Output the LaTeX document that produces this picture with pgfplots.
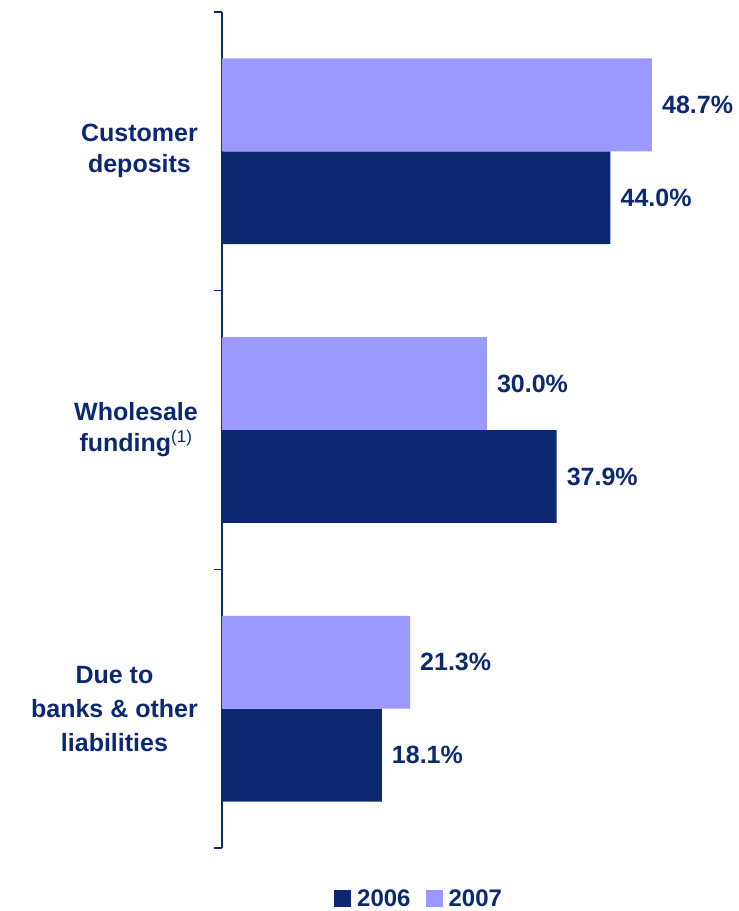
\documentclass[border=0pt]{standalone}
\usepackage{pgfplots}
\pgfplotsset{compat=1.18}
\usepackage{fontspec}
\setmainfont{Liberation Sans}
\definecolor{navy}{HTML}{0C2870}
\definecolor{lav}{HTML}{9999FF}
\newcommand{\fnmark}{\textsuperscript{\mdseries\fontsize{17}{17}\selectfont(1)}}
\begin{document}
\begin{tikzpicture}
\path[use as bounding box] (0pt,0pt) rectangle (739pt,-911pt);
\begin{axis}[
  at={(222pt,-12pt)}, anchor=north west,
  scale only axis, width=512pt, height=836pt,
  xmin=0, xmax=58, ymin=-0.5, ymax=2.5, y dir=reverse,
  axis x line=none, axis y line*=left,
  axis line style={navy, line width=1.3pt},
  xbar, bar width=0.333,
  ytick={0,1,2},
  yticklabels={{Customer\\deposits},{Wholesale\\funding\fnmark},{Due to\\[3pt]banks \& other\\[3pt]liabilities}},
  major tick length=0pt,
  minor ytick={-0.5,0.5,1.5,2.5},
  minor tick length=8pt, tick align=outside,
  minor tick style={navy, line width=1.3pt},
  yticklabel style={align=center, anchor=east, inner sep=0pt, xshift=-24pt, font=\fontsize{25}{31}\selectfont\bfseries, text=navy},
  /pgf/number format/assume math mode=true,
  point meta=x,
  nodes near coords={\pgfmathprintnumber[fixed,fixed zerofill,precision=1,assume math mode=true]{\pgfplotspointmeta}\%},
  every node near coord/.append style={anchor=west, inner sep=0pt, xshift=10pt, font=\fontsize{25}{30}\selectfont\bfseries, text=navy},
  legend style={at={(0.383,-0.0605)}, anchor=center, draw=none, fill=none, legend columns=2,
    font=\fontsize{24}{24}\selectfont\bfseries, text=navy, inner sep=0pt,
    nodes={inner sep=0pt},
    /tikz/every even column/.append style={column sep=15pt}},
  legend cell align=left,
  clip=false,
]
\addplot[fill=navy, draw=none, bar shift=0.1667,
  legend image code/.code={\fill[navy] (0pt,-8.5pt) rectangle (17pt,8.5pt); \path (23pt,0pt);}]
  coordinates {(44.0,0) (37.9,1) (18.1,2)};
\addlegendentry{2006}
\addplot[fill=lav, draw=none, bar shift=-0.1667,
  legend image code/.code={\fill[lav] (0pt,-8.5pt) rectangle (17pt,8.5pt); \path (23pt,0pt);}]
  coordinates {(48.7,0) (30.0,1) (21.3,2)};
\addlegendentry{2007}
\end{axis}
\end{tikzpicture}
\end{document}
